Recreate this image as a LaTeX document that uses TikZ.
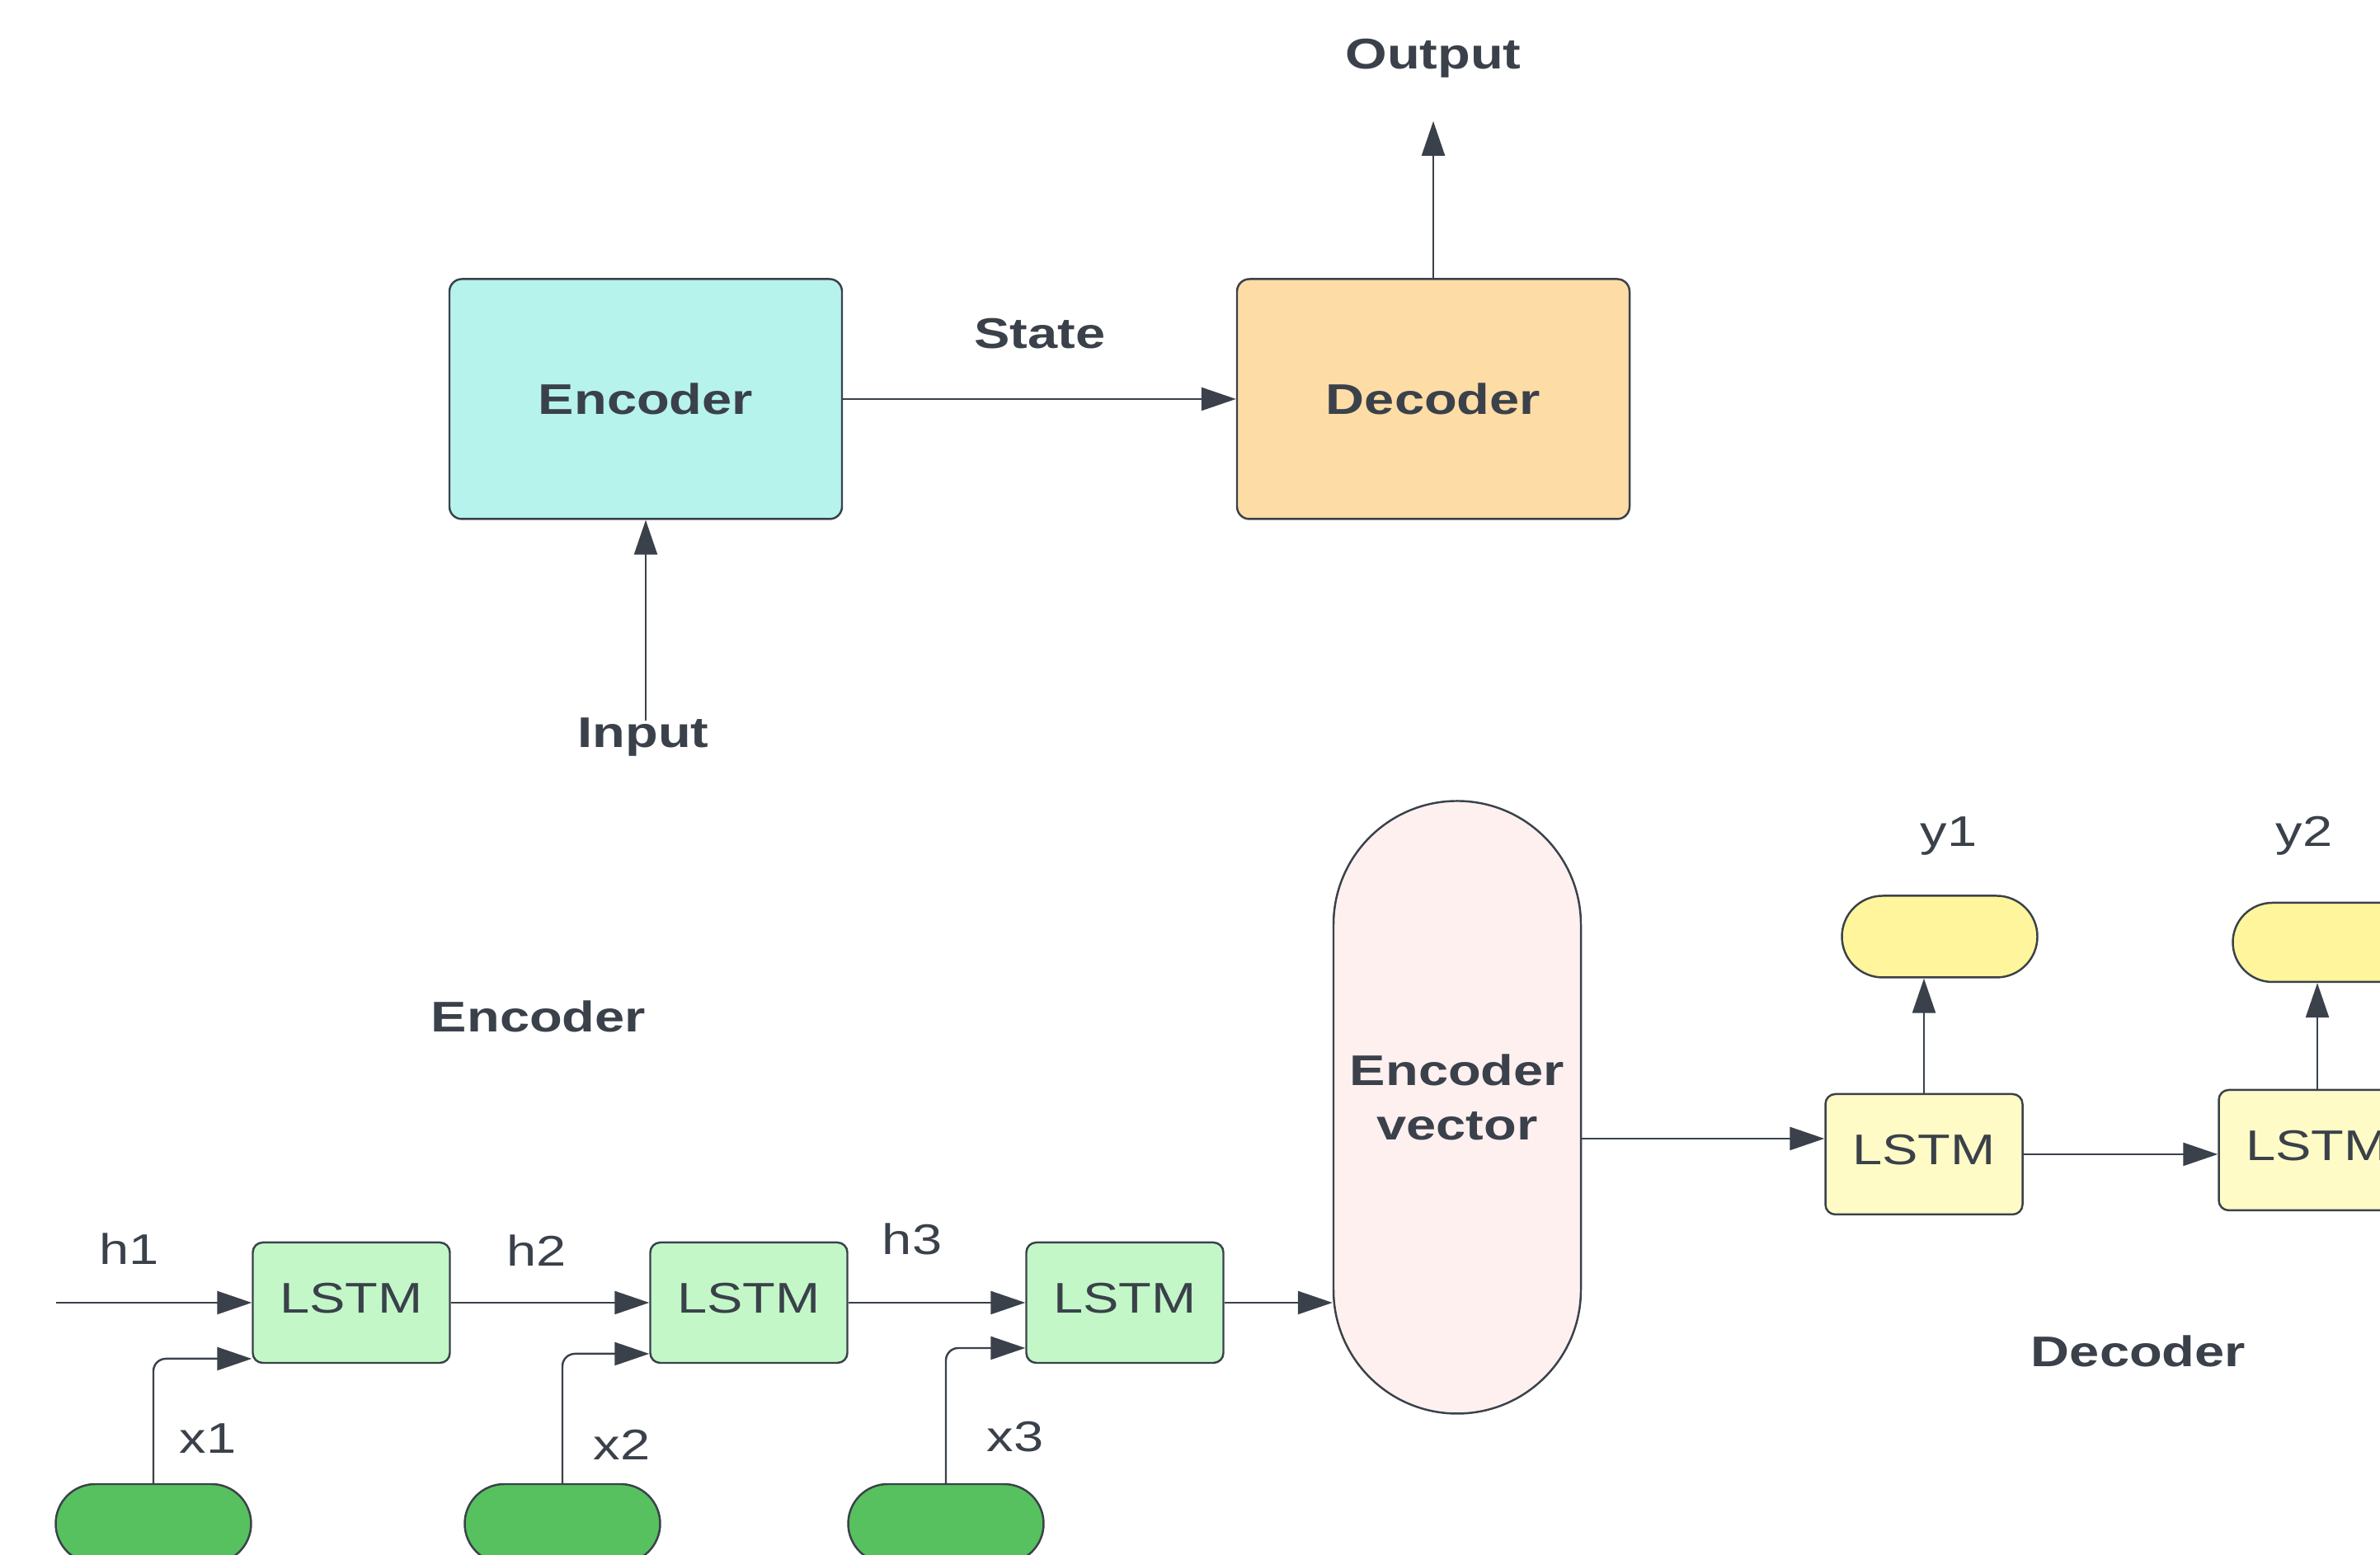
\documentclass[tikz,border=0pt]{standalone}
\usepackage{fontspec}
\setmainfont{Liberation Sans}[FakeStretch=1.25]
\usetikzlibrary{arrows.meta}

\definecolor{ink}{HTML}{3A414A}
\definecolor{encfill}{HTML}{B6F3EC}
\definecolor{decfill}{HTML}{FEDCA6}
\definecolor{cellgreen}{HTML}{C3F7C8}
\definecolor{pillgreen}{HTML}{56C15E}
\definecolor{evfill}{HTML}{FFF0F0}
\definecolor{cellyellow}{HTML}{FFFBC6}
\definecolor{pillyellow}{HTML}{FFF59C}
\newcommand{\lbl}{\fontsize{14.8pt}{18.8pt}\selectfont}

\begin{document}
\begin{tikzpicture}[color=ink,line width=0.7pt,>={Triangle[length=0.42cm,width=0.28cm]},
  box/.style={draw,rounded corners=0.15cm,minimum width=4.76cm,minimum height=2.91cm,font=\lbl\bfseries},
  cell/.style={draw,rounded corners=0.12cm,minimum width=2.39cm,minimum height=1.46cm,text depth=0.12cm,font=\lbl},
  pill/.style={draw,rounded corners=0.48cm,minimum width=2.37cm,minimum height=0.96cm},
  tag/.style={font=\lbl,inner sep=0pt},
  title/.style={font=\lbl\bfseries,inner sep=0pt}]
      \useasboundingbox (0,0) rectangle (28.86,18.86);
      \clip (0,0) rectangle (28.86,18.86);

      % top: encoder / decoder
      \node[box,fill=encfill] (enc) at (7.83,14.02) {Encoder};
      \node[box,fill=decfill] (dec) at (17.38,14.02) {Decoder};
      \node[title] (state) at (12.61,14.81) {State};
      \node[title] (out) at (17.38,18.15) {Output};
      \node[title] (inp) at (7.80,9.92) {Input};
      \coordinate (outtip) at (17.38,17.39);
      \coordinate (intail) at (7.83,10.12);

      \path[->]
        (enc) edge (dec)
        (dec) edge (outtip)
        (intail) edge (enc);

      % bottom: encoder chain
      \node[title] (enctag) at (6.53,6.53) {Encoder};
      \node[cell,fill=cellgreen] (l1) at (4.26,3.06) {LSTM};
      \node[cell,fill=cellgreen] (l2) at (9.08,3.06) {LSTM};
      \node[cell,fill=cellgreen] (l3) at (13.64,3.06) {LSTM};
      \node[pill,fill=pillgreen] (g1) at (1.86,0.38) {};
      \node[pill,fill=pillgreen] (g2) at (6.82,0.38) {};
      \node[pill,fill=pillgreen] (g3) at (11.47,0.38) {};
      \node[tag] (h1) at (1.57,3.71) {h1};
      \node[tag] (h2) at (6.51,3.69) {h2};
      \node[tag] (h3) at (11.06,3.83) {h3};
      \node[tag] (x1) at (2.52,1.41) {x1};
      \node[tag] (x2) at (7.54,1.34) {x2};
      \node[tag] (x3) at (12.31,1.43) {x3};
      \node[draw,fill=evfill,rounded corners=1.5cm,minimum width=3cm,minimum height=7.43cm,
        align=center,font=\lbl\bfseries,inner sep=0pt,text depth=0.25cm] (ev) at (17.67,5.43) {Encoder\\vector};
      \coordinate (h0) at (0.68,3.06);

      \path[->]
        (h0) edge (l1)
        (l1) edge (l2)
        (l2) edge (l3)
        (l3) edge (l3 -| ev.west);

      \draw[->,rounded corners=0.15cm] (g1.north) |- ([yshift=-0.68cm]l1.west);
      \draw[->,rounded corners=0.15cm] (g2.north) |- ([yshift=-0.62cm]l2.west);
      \draw[->,rounded corners=0.15cm] (g3.north) |- ([yshift=-0.55cm]l3.west);

      % bottom: decoder chain
      \node[cell,fill=cellyellow] (d1) at (23.33,4.86) {LSTM};
      \node[cell,fill=cellyellow] (d2) at (28.10,4.91) {LSTM};
      \node[pill,fill=pillyellow,minimum height=0.99cm,rounded corners=0.495cm] (o1) at (23.52,7.50) {};
      \node[pill,fill=pillyellow] (o2) at (28.26,7.43) {};
      \node[tag] (y1) at (23.63,8.72) {y1};
      \node[tag] (y2) at (27.94,8.72) {y2};
      \node[title] (dectag) at (25.93,2.47) {Decoder};
      \coordinate (evout) at ([yshift=0.19cm]d1.west);

      \path[->]
        (evout -| ev.east) edge (evout)
        (d1.east) edge (d1.east -| d2.west)
        (d1.north) edge (d1.north |- o1.south)
        (d2.north) edge (d2.north |- o2.south);

    \end{tikzpicture}
\end{document}
